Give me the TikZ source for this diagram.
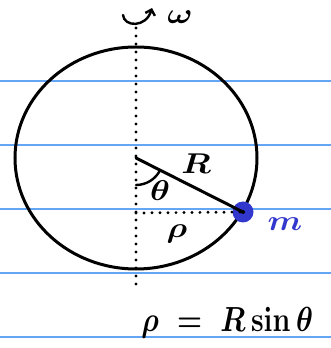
\documentclass[tikz,border=0pt]{standalone}
\usepackage{amsmath}
\usepackage{xcolor}
\usepackage{tikz}
\usetikzlibrary{arrows.meta,positioning,calc}
\definecolor{ruleblue}{RGB}{100, 165, 245}
\definecolor{massblue}{RGB}{50, 55, 205}

\begin{document}
\begin{tikzpicture}[x=1pt, y=1pt, line cap=round,
    dotline/.style={line width=3.2pt, dash pattern=on 0pt off 8pt, line cap=round},
    massdot/.style={circle, fill=massblue, minimum size=21pt, inner sep=0pt},
    handlabel/.style={font=\fontsize{24}{28}\selectfont\boldmath, xscale=1.35, yscale=1.15, transform shape, inner sep=1pt},
    relationtext/.style={font=\fontsize{24}{28}\selectfont\boldmath, xscale=1.15, yscale=1.4, transform shape, inner sep=1pt}]
        \useasboundingbox (0, 0) rectangle (331, 348);

        % Ruled paper lines
        \foreach \y in {267, 203, 139, 75, 11} {
            \draw[color=ruleblue, line width=1.2pt] (0, \y) -- (331, \y);
        }

        % Key points
        \coordinate (O) at (136, 190);
        \coordinate (foot) at (136, 135);
        \coordinate (axtop) at (136, 320);
        \coordinate (axbot) at (136, 58);

        % Sphere outline
        \draw[line width=3pt] (O) ellipse [x radius=121, y radius=111];

        % Rotation axis
        \draw[dotline] (axtop) -- (axbot);

        % Rotation arrow and omega
        \coordinate (rotstart) at (123, 333);
        \coordinate (rotend) at (152, 340);
        \draw[line width=2.4pt, -{Straight Barb[length=5pt, width=10pt, line width=2.4pt]}] (rotstart) .. controls (124, 321) and (146, 320) .. (rotend);
        \node[handlabel] (omega) at (180, 331) {$\omega$};

        % Point mass
        \node[massdot] (m) at (243, 136) {};
        \node[handlabel, color=massblue] (mlabel) at (285, 124) {$m$};

        % Radius and distance from axis
        \draw[line width=3pt] (O) -- (m.center);
        \draw[dotline] (foot) -- (m.center);
        \fill (m.center) circle (2pt);

        % Angle
        \draw[line width=2.4pt] ([shift={(-90:27)}]O) arc[start angle=-90, end angle=-27, radius=27];
        \node[handlabel] (theta) at (160, 157) {$\theta$};
        \node[handlabel] (Rlabel) at (196, 184) {$R$};
        \node[handlabel] (rholabel) at (177, 114) {$\rho$};

        % Relation
        \node[relationtext, anchor=west] (relation) at (140, 25) {$\rho\;=\;R\sin\theta$};
    \end{tikzpicture}
\end{document}
